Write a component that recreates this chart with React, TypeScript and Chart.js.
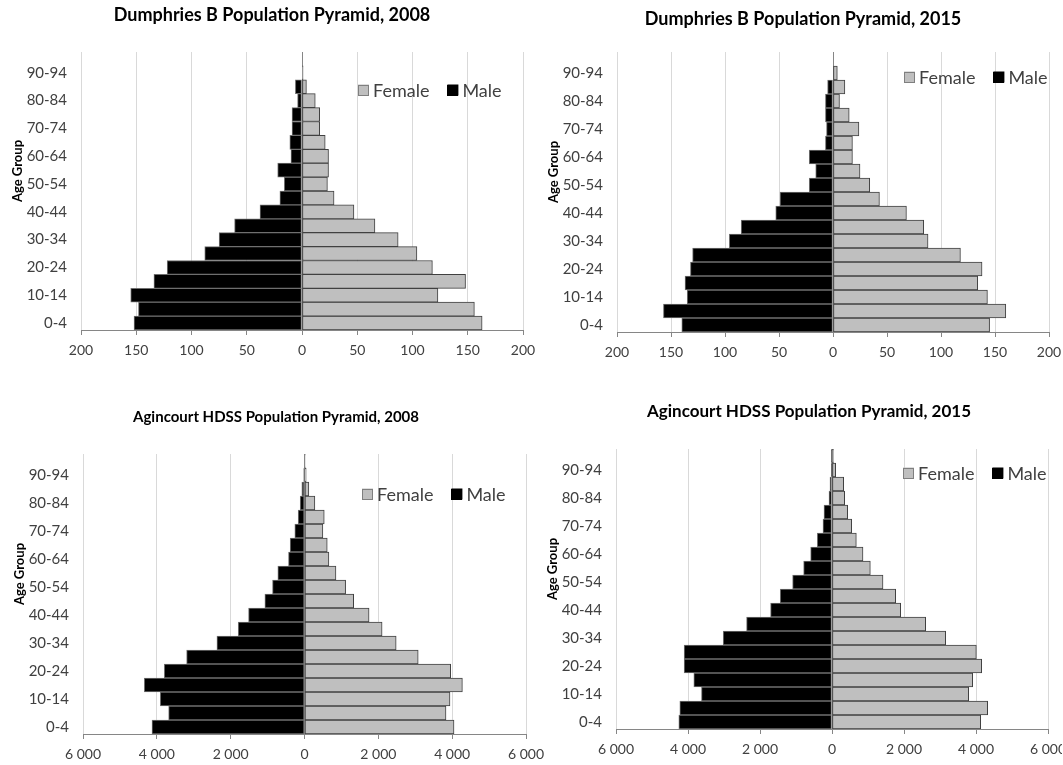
import React, { useEffect, useRef } from 'react';
import { Chart, registerables } from 'chart.js';

Chart.register(...registerables);

// ---------- data ----------
const ageGroups = [
  '0-4', '5-9', '10-14', '15-19', '20-24', '25-29', '30-34', '35-39', '40-44', '45-49',
  '50-54', '55-59', '60-64', '65-69', '70-74', '75-79', '80-84', '85-89', '90-94', '95+',
];

const dumphries2008Female = [163, 156, 123, 148, 118, 104, 87, 66, 47, 29, 23, 24, 24, 21, 16, 16, 12, 4, 1, 0];
const dumphries2008Male = [152, 148, 155, 134, 122, 88, 75, 61, 38, 20, 16, 22, 10, 11, 9, 9, 4, 6, 0, 0];

const dumphries2015Female = [145, 160, 143, 134, 138, 118, 88, 84, 68, 43, 34, 25, 18, 18, 24, 15, 6, 11, 4, 0];
const dumphries2015Male = [140, 157, 135, 137, 132, 130, 96, 85, 53, 49, 22, 16, 22, 7, 6, 7, 7, 5, 0, 0];

const agincourt2008Female = [4050, 3833, 3941, 4277, 3960, 3080, 2483, 2102, 1749, 1332, 1114, 852, 661, 616, 498, 535, 281, 118, 45, 20];
const agincourt2008Male = [4131, 3680, 3906, 4339, 3797, 3193, 2372, 1795, 1515, 1073, 866, 722, 433, 388, 262, 171, 117, 72, 18, 0];

const agincourt2015Female = [4130, 4324, 3797, 3908, 4158, 4010, 3158, 2602, 1908, 1769, 1417, 1065, 861, 676, 546, 435, 352, 324, 102, 40];
const agincourt2015Male = [4255, 4227, 3625, 3838, 4107, 4107, 3022, 2373, 1706, 1437, 1094, 788, 593, 408, 250, 222, 83, 56, 19, 10];

const seriesNames = ['Female', 'Male'];
const axisTitle = 'Age Group';

const dumphriesAxis = { max: 200, step: 50 };
const agincourtAxis = { max: 6000, step: 2000 };

// ---------- helpers ----------
const FONT = 'Lato';

function formatTick(v: number): string {
  const n = Math.abs(Math.round(v));
  if (n >= 1000) {
    return `${Math.floor(n / 1000)} ${String(n % 1000).padStart(3, '0')}`;
  }
  return String(n);
}

const overlayPlugin = {
  id: 'pyramidOverlay',
  afterDraw(chart: any, _args: any, opts: any) {
    const { ctx, chartArea } = chart;

    // chart title
    ctx.save();
    ctx.font = `bold ${opts.titleSize}px ${FONT}`;
    ctx.fillStyle = '#000000';
    ctx.textAlign = 'center';
    ctx.textBaseline = 'middle';
    ctx.fillText(opts.title, opts.titleX, opts.titleY);
    ctx.restore();

    // y-axis title
    ctx.save();
    ctx.font = `bold 13px ${FONT}`;
    ctx.fillStyle = '#000000';
    ctx.textAlign = 'center';
    ctx.textBaseline = 'middle';
    ctx.translate(chartArea.left - opts.axisTitleDx, (chartArea.top + chartArea.bottom) / 2 + opts.axisTitleDy);
    ctx.rotate(-Math.PI / 2);
    ctx.fillText(opts.axisTitle, 0, 0);
    ctx.restore();

    // legend inside plot area
    ctx.save();
    ctx.font = `18px ${FONT}`;
    ctx.textBaseline = 'middle';
    ctx.textAlign = 'left';
    let x = chartArea.right - opts.legendRight;
    const y = chartArea.top + opts.legendTop;
    const s = 11;
    chart.data.datasets.forEach((ds: any) => {
      ctx.fillStyle = ds.backgroundColor;
      ctx.fillRect(x, y - s / 2, s, s);
      ctx.strokeStyle = ds.legendBorder;
      ctx.lineWidth = 1;
      ctx.strokeRect(Math.round(x) + 0.5, Math.round(y - s / 2) + 0.5, s - 1, s - 1);
      x += s + 4;
      ctx.fillStyle = '#404040';
      ctx.fillText(ds.label, x, y + 1);
      x += ctx.measureText(ds.label).width + 18;
    });
    ctx.restore();
  },
};

type PanelProps = {
  title: string;
  female: number[];
  male: number[];
  axis: { max: number; step: number };
  chartLeft: number;
  chartRight: number;
  chartTop: number;
  chartBottom: number;
  titleX: number;
  titleY: number;
  titleSize: number;
  padRight: number;
  legendRight: number;
  legendTop: number;
};

const Y_AXIS_W = 76;
const X_AXIS_H = 34;

function PyramidPanel(p: PanelProps) {
  const ref = useRef<HTMLCanvasElement | null>(null);

  const boxLeft = p.chartLeft - Y_AXIS_W;
  const boxTop = p.titleY - 14;
  const boxWidth = p.chartRight + p.padRight - boxLeft;
  const boxHeight = p.chartBottom + X_AXIS_H - boxTop;

  useEffect(() => {
    if (!ref.current) return;
    const chart = new Chart(ref.current, {
      type: 'bar',
      data: {
        labels: ageGroups,
        datasets: [
          {
            label: seriesNames[0],
            data: p.female,
            backgroundColor: '#bfbfbf',
            borderColor: '#404040',
            legendBorder: '#7f7f7f',
            borderWidth: 1,
            borderSkipped: false,
            barPercentage: 1,
            categoryPercentage: 1,
          } as any,
          {
            label: seriesNames[1],
            data: p.male.map((v) => -v),
            backgroundColor: '#000000',
            borderColor: '#6f6f6f',
            legendBorder: '#000000',
            borderWidth: 1,
            borderSkipped: false,
            barPercentage: 1,
            categoryPercentage: 1,
          } as any,
        ],
      },
      options: {
        indexAxis: 'y',
        animation: false,
        responsive: true,
        maintainAspectRatio: false,
        devicePixelRatio: 1,
        layout: { padding: { left: 0, right: p.padRight, top: p.chartTop - boxTop, bottom: 0 } },
        scales: {
          x: {
            stacked: true,
            min: -p.axis.max,
            max: p.axis.max,
            ticks: {
              stepSize: p.axis.step,
              callback: (v: any) => formatTick(Number(v)),
              color: '#404040',
              font: { family: FONT, size: 14 },
              padding: 7,
              maxRotation: 0,
            },
            grid: {
              color: (c: any) => (c.tick && c.tick.value === 0 ? '#868686' : '#d9d9d9'),
              tickColor: '#868686',
              tickLength: 5,
              lineWidth: 1,
            },
            border: { display: true, color: '#868686', width: 1 },
            afterFit: (scale: any) => {
              scale.height = X_AXIS_H;
              scale.paddingLeft = 0;
              scale.paddingRight = 0;
            },
          },
          y: {
            stacked: true,
            reverse: true,
            offset: true,
            ticks: {
              autoSkip: false,
              color: '#404040',
              font: { family: FONT, size: 15 },
              padding: 14,
              callback: (_v: any, i: number) => (i % 2 === 0 ? ageGroups[i] : ''),
            },
            grid: { display: false, drawTicks: false },
            border: { display: false },
            afterFit: (scale: any) => {
              scale.width = Y_AXIS_W;
              scale.paddingTop = 0;
              scale.paddingBottom = 0;
            },
          },
        },
        plugins: {
          legend: { display: false },
          tooltip: { enabled: false },
          title: { display: false },
          pyramidOverlay: {
            title: p.title,
            titleX: p.titleX - boxLeft,
            titleY: p.titleY - boxTop,
            titleSize: p.titleSize,
            axisTitle,
            axisTitleDx: 63,
            axisTitleDy: -20,
            legendRight: p.legendRight,
            legendTop: p.legendTop,
          },
        } as any,
      },
      plugins: [overlayPlugin],
    });
    return () => chart.destroy();
  }, []);

  return (
    <div
      style={{
        position: 'absolute',
        left: boxLeft,
        top: boxTop,
        width: boxWidth,
        height: boxHeight,
      }}
    >
      <canvas ref={ref} />
    </div>
  );
}

export default function App() {
  return (
    <div
      style={{
        position: 'absolute',
        left: 0,
        top: 0,
        width: 1063,
        height: 765,
        overflow: 'hidden',
        background: '#ffffff',
      }}
    >
      <PyramidPanel
        title="Dumphries B Population Pyramid, 2008"
        female={dumphries2008Female}
        male={dumphries2008Male}
        axis={dumphriesAxis}
        chartLeft={81}
        chartRight={523}
        chartTop={52}
        chartBottom={330}
        titleX={272}
        titleY={15}
        titleSize={18}
        padRight={30}
        legendRight={165}
        legendTop={38}
      />
      <PyramidPanel
        title="Dumphries B Population Pyramid, 2015"
        female={dumphries2015Female}
        male={dumphries2015Male}
        axis={dumphriesAxis}
        chartLeft={617}
        chartRight={1049}
        chartTop={52}
        chartBottom={332}
        titleX={803}
        titleY={19}
        titleSize={18}
        padRight={14}
        legendRight={145}
        legendTop={25}
      />
      <PyramidPanel
        title="Agincourt HDSS Population Pyramid, 2008"
        female={agincourt2008Female}
        male={agincourt2008Male}
        axis={agincourtAxis}
        chartLeft={83}
        chartRight={526}
        chartTop={454}
        chartBottom={734}
        titleX={276}
        titleY={417}
        titleSize={15}
        padRight={30}
        legendRight={164}
        legendTop={40}
      />
      <PyramidPanel
        title="Agincourt HDSS Population Pyramid, 2015"
        female={agincourt2015Female}
        male={agincourt2015Male}
        axis={agincourtAxis}
        chartLeft={616}
        chartRight={1048}
        chartTop={449}
        chartBottom={729}
        titleX={809}
        titleY={412}
        titleSize={17}
        padRight={14}
        legendRight={145}
        legendTop={24}
      />
    </div>
  );
}
